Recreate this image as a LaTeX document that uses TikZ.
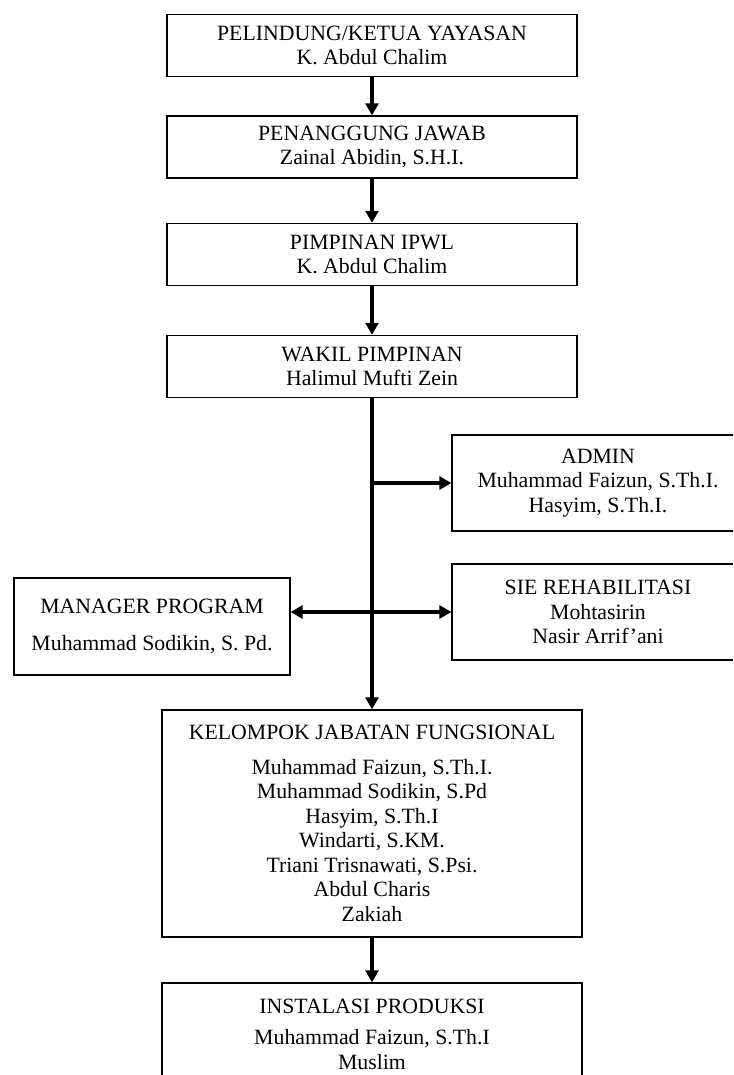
\documentclass[tikz,border=0pt]{standalone}
\usepackage{fontspec}
\setmainfont{Liberation Serif}
\usetikzlibrary{arrows.meta}

\begin{document}
\begin{tikzpicture}[x=1pt, y=-1pt, >={Triangle[length=12pt,width=13pt]},
    box/.style={draw, line width=1.3pt, minimum width=410pt, minimum height=62pt,
        inner sep=0pt, align=center, font=\fontsize{21.8}{24.5}\selectfont},
    link/.style={->, line width=3.6pt}]

    % 1. ukuran halaman
    \clip (0,0) rectangle (733,1075);

    % 2. kotak jalur utama
    \node[box] (pelindung) at (372,45.5) {PELINDUNG/KETUA YAYASAN\\K. Abdul Chalim};
    \node[box] (penanggung) at (372,147) {PENANGGUNG JAWAB\\Zainal Abidin, S.H.I.};
    \node[box] (pimpinan) at (372,254.5) {PIMPINAN IPWL\\K. Abdul Chalim};
    \node[box] (wakil) at (372,366.5) {WAKIL PIMPINAN\\Halimul Mufti Zein};

    % 3. kotak samping
    \node[box, minimum width=292pt, minimum height=96pt] (admin) at (598,483)
        {ADMIN\\Muhammad Faizun, S.Th.I.\\Hasyim, S.Th.I.};
    \node[box, minimum width=292pt, minimum height=96pt] (sie) at (598,612)
        {SIE REHABILITASI\\Mohtasirin\\Nasir Arrif'ani};
    \node[box, minimum width=276pt, minimum height=97pt] (manager) at (152,626.5)
        {MANAGER PROGRAM\\[12pt]Muhammad Sodikin, S. Pd.};

    % 4. kotak bawah
    \node[box, minimum width=420pt, minimum height=227pt] (kelompok) at (372,823.5)
        {KELOMPOK JABATAN FUNGSIONAL\\[10pt]Muhammad Faizun, S.Th.I.\\Muhammad Sodikin, S.Pd\\
         Hasyim, S.Th.I\\Windarti, S.KM.\\Triani Trisnawati, S.Psi.\\Abdul Charis\\Zakiah};
    \node[box, minimum width=420pt, minimum height=102pt] (instalasi) at (372,1034)
        {INSTALASI PRODUKSI\\[7pt]Muhammad Faizun, S.Th.I\\Muslim};

    % 5. panah
    \draw[link] (pelindung) -- (penanggung);
    \draw[link] (penanggung) -- (pimpinan);
    \draw[link] (pimpinan) -- (wakil);
    \draw[link] (wakil) -- (kelompok);
    \draw[link] (kelompok) -- (instalasi);

    % 6. cabang ke samping
    \coordinate (cabang) at (wakil.south |- admin.west);
    \draw[link] (cabang) -- (admin);
    \draw[link, <->] (sie.west -| manager.east) -- (sie.west);

\end{tikzpicture}
\end{document}
